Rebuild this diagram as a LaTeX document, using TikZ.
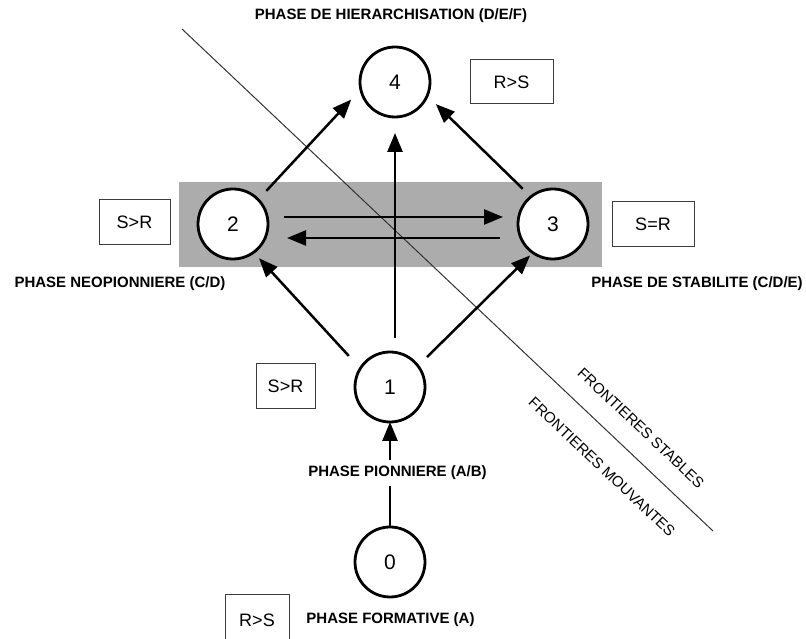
\documentclass[tikz,border=0pt]{standalone}
\usepackage{fontspec}
\setmainfont{Liberation Sans}
\usetikzlibrary{arrows.meta}
\definecolor{bandgray}{RGB}{172,172,172}
\definecolor{boxline}{RGB}{60,60,60}
\begin{document}
\begin{tikzpicture}[x=1pt,y=1pt,
  phase/.style={circle,draw=black,line width=2.8pt,fill=white,minimum size=70pt,inner sep=0pt,outer sep=0pt,font=\fontsize{21}{23}\selectfont},
  ratio/.style={rectangle,draw=boxline,line width=1pt,inner sep=0pt,outer sep=0pt,font=\fontsize{18}{20}\selectfont},
  lab/.style={font=\fontsize{15}{17}\selectfont\bfseries,inner sep=2pt},
  front/.style={font=\fontsize{15}{17}\selectfont,inner sep=0pt,rotate=-43.4},
  arr/.style={line width=2.5pt,-{Triangle[length=19pt,width=15pt]}},
  plain/.style={line width=2.5pt}]
\clip (0,0) rectangle (806,639);
\useasboundingbox (0,0) rectangle (806,639);
% gray band
\fill[bandgray] (179,372) rectangle (602,457);
% boundary line
\draw[line width=1pt,black!80] (182,610) coordinate (la) -- (713,108) coordinate (lb);
% phase circles
\node[phase] (n4) at (395,557) {4};
\node[phase] (n2) at (233,415) {2};
\node[phase] (n3) at (553,415) {3};
\node[phase] (n1) at (390,252) {1};
\node[phase] (n0) at (390,77) {0};
% ratio boxes
\node[ratio,minimum width=83pt,minimum height=44pt] (b4) at (511.5,557) {R>S};
\node[ratio,minimum width=71pt,minimum height=45pt] (b2) at (134.5,416.5) {S>R};
\node[ratio,minimum width=82pt,minimum height=45pt] (b3) at (653,414.5) {S=R};
\node[ratio,minimum width=59pt,minimum height=45pt] (b1) at (285.5,252.5) {S>R};
\node[ratio,minimum width=64pt,minimum height=50pt] (b0) at (257,19) {R>S};
% labels
\node[lab] (t4) at (391,623) {PHASE DE HIERARCHISATION (D/E/F)};
\node[lab] (t2) at (120,355) {PHASE NEOPIONNIERE (C/D)};
\node[lab] (t3) at (697,355) {PHASE DE STABILITE (C/D/E)};
\node[lab,inner ysep=6pt] (t1) at (397.5,166) {PHASE PIONNIERE (A/B)};
\node[lab] (t0) at (390.5,19) {PHASE FORMATIVE (A)};
\node[front] (fs) at (641,211) {FRONTIERES STABLES};
\node[front] (fm) at (602,172) {FRONTIERES MOUVANTES};
% connectors
\draw[plain] (n0.north) -- (n0.north |- t1.south);
\draw[arr] (n1.south |- t1.north) -- (n1.south);
\draw[arr,shorten <=17pt,shorten >=8pt] (n1.148) -- (n2.306);
\draw[arr,shorten <=12.7pt,shorten >=4pt] (n1.37) -- (n3.235);
\draw[arr,shorten <=14pt,shorten >=16pt] (n4.south |- n1.north) -- (n4.south);
\draw[arr,shorten <=12pt,shorten >=14pt] (n2.44) -- (n4.192);
\draw[arr,shorten <=11.5pt,shorten >=12pt] (n3.129) -- (n4.337);
\draw[arr,shorten <=16pt,shorten >=15pt] ([yshift=7pt]n2.east) -- ([yshift=7pt]n3.west);
\draw[arr,shorten <=18pt,shorten >=19pt] ([yshift=-14pt]n3.west) -- ([yshift=-14pt]n2.east);
\end{tikzpicture}
\end{document}
